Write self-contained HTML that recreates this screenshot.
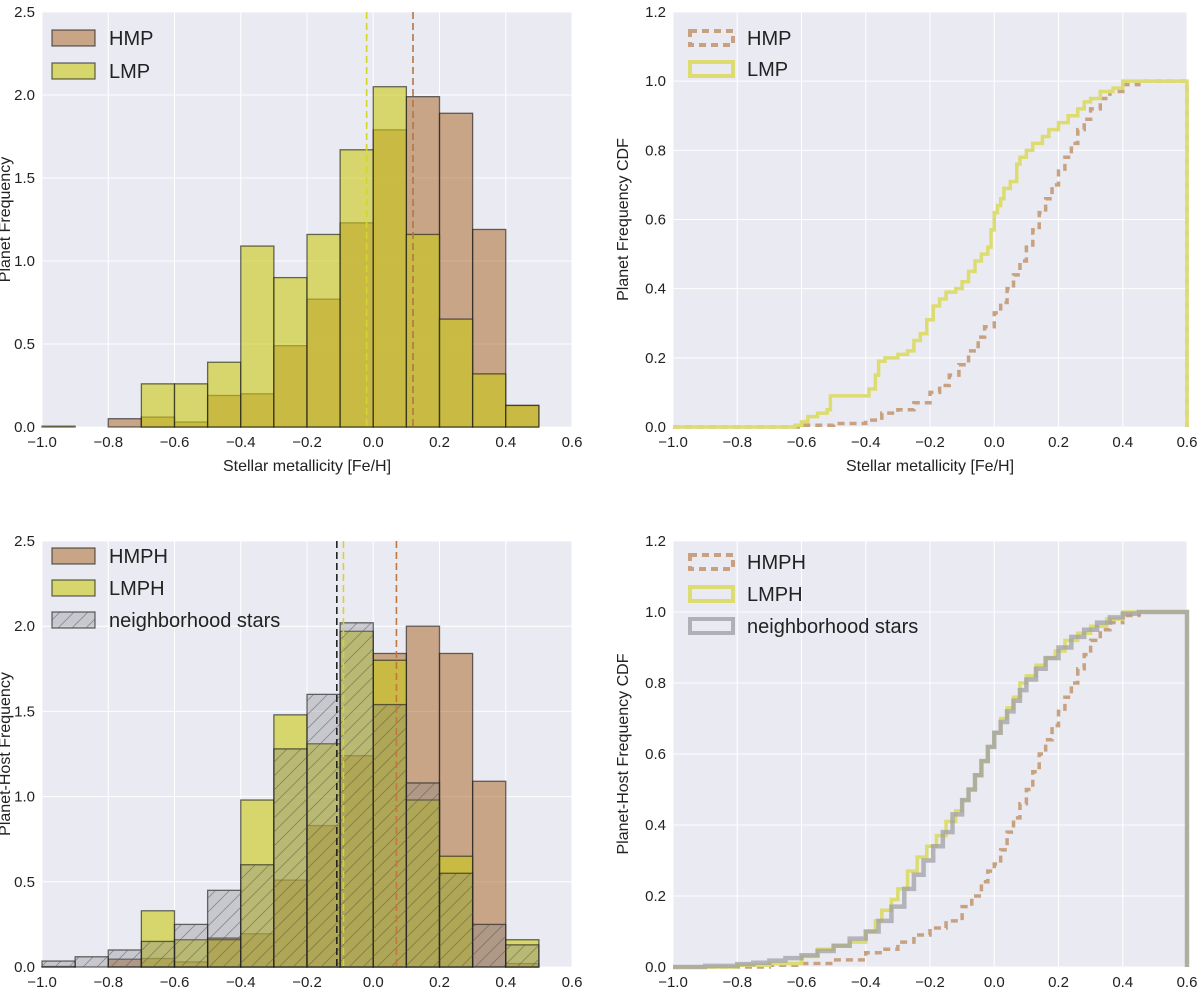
<!DOCTYPE html>
<html><head><meta charset="utf-8"><style>
body{margin:0;background:#fff;font-family:"Liberation Sans",sans-serif}
svg{display:block}
text{font-family:"Liberation Sans",sans-serif}
</style></head><body>
<svg id="fig" width="1200" height="997" viewBox="0 0 1200 997" xmlns="http://www.w3.org/2000/svg">
<defs>
<pattern id="hatch" patternUnits="userSpaceOnUse" width="14" height="14">
<path d="M0,14 L14,0 M-3,3 L3,-3 M11,17 L17,11" stroke="#555" stroke-width="0.8" opacity="0.55"/>
</pattern>
</defs>
</svg>
<script>
const binEdges = [-1.0,-0.9,-0.8,-0.7,-0.6,-0.5,-0.4,-0.3,-0.2,-0.1,0.0,0.1,0.2,0.3,0.4];
const hmp  = [0,0,0.05,0.06,0.03,0.19,0.2,0.49,0.77,1.23,1.79,1.99,1.89,1.19,0.13];
const lmp  = [0.005,0,0,0.26,0.26,0.39,1.09,0.9,1.16,1.67,2.05,1.16,0.65,0.32,0.13];
const hmph = [0.003,0,0.046,0.05,0.03,0.17,0.195,0.51,0.83,1.24,1.84,2.0,1.84,1.09,0.02];
const lmph = [0,0,0,0.33,0.16,0.16,0.98,1.48,1.31,1.97,1.80,0.98,0.65,0,0.16];
const nbh  = [0.035,0.06,0.1,0.15,0.25,0.45,0.6,1.28,1.6,2.02,1.54,1.08,0.55,0.25,0.13];
const meanTop = {lmp:-0.02, hmp:0.12};
const meanBot = {nbh:-0.11, lmph:-0.09, hmph:0.07};
const xTicks = [-1.0,-0.8,-0.6,-0.4,-0.2,0.0,0.2,0.4,0.6];
const yTicksHist = [0,0.5,1.0,1.5,2.0,2.5];
const yTicksCdf = [0,0.2,0.4,0.6,0.8,1.0,1.2];
const cdfLmpX = [-1,-0.62,-0.6,-0.58,-0.55,-0.52,-0.51,-0.4,-0.39,-0.37,-0.36,-0.34,-0.3,-0.27,-0.25,-0.23,-0.21,-0.19,-0.17,-0.15,-0.12,-0.1,-0.08,-0.06,-0.04,-0.02,-0.01,0,0.01,0.02,0.03,0.05,0.07,0.08,0.1,0.12,0.15,0.17,0.2,0.23,0.26,0.28,0.3,0.33,0.37,0.4];
const cdfLmpY = [0,0.005,0.015,0.03,0.04,0.05,0.09,0.09,0.11,0.15,0.19,0.2,0.21,0.22,0.25,0.27,0.31,0.35,0.37,0.39,0.4,0.42,0.45,0.48,0.5,0.52,0.57,0.62,0.64,0.66,0.69,0.71,0.76,0.78,0.8,0.82,0.84,0.86,0.88,0.9,0.92,0.94,0.95,0.97,0.98,1.0];
const cdfHmpX = [-1,-0.6,-0.5,-0.4,-0.35,-0.3,-0.25,-0.2,-0.17,-0.14,-0.11,-0.08,-0.05,-0.03,0,0.02,0.04,0.06,0.08,0.1,0.12,0.14,0.16,0.18,0.2,0.22,0.24,0.26,0.28,0.3,0.33,0.36,0.4,0.45];
const cdfHmpY = [0,0.005,0.01,0.02,0.04,0.05,0.07,0.1,0.12,0.15,0.18,0.22,0.26,0.29,0.33,0.36,0.4,0.44,0.48,0.52,0.57,0.62,0.66,0.7,0.74,0.78,0.82,0.86,0.89,0.92,0.95,0.97,0.99,1.0];
const cdfLmphX = [-1,-0.8,-0.7,-0.6,-0.55,-0.5,-0.45,-0.4,-0.37,-0.35,-0.32,-0.3,-0.27,-0.24,-0.21,-0.18,-0.15,-0.12,-0.1,-0.08,-0.06,-0.04,-0.02,0,0.02,0.04,0.06,0.08,0.1,0.13,0.16,0.19,0.22,0.26,0.3,0.35,0.4];
const cdfLmphY = [0,0.005,0.01,0.03,0.05,0.06,0.07,0.1,0.13,0.16,0.19,0.22,0.27,0.31,0.34,0.37,0.41,0.44,0.47,0.5,0.54,0.58,0.62,0.66,0.7,0.73,0.76,0.8,0.82,0.85,0.87,0.89,0.92,0.94,0.96,0.98,1.0];
const cdfNbhX = [-1,-0.9,-0.8,-0.75,-0.7,-0.65,-0.6,-0.55,-0.5,-0.45,-0.4,-0.36,-0.32,-0.28,-0.25,-0.22,-0.19,-0.16,-0.13,-0.1,-0.08,-0.06,-0.04,-0.02,0,0.02,0.04,0.06,0.08,0.1,0.13,0.16,0.2,0.24,0.28,0.32,0.36,0.4,0.45];
const cdfNbhY = [0,0.003,0.008,0.012,0.018,0.025,0.033,0.045,0.06,0.08,0.1,0.13,0.17,0.22,0.26,0.3,0.34,0.38,0.43,0.47,0.5,0.54,0.58,0.62,0.66,0.69,0.72,0.75,0.78,0.81,0.84,0.87,0.9,0.93,0.95,0.97,0.985,0.995,1.0];
const cdfHmphX = [-1,-0.7,-0.6,-0.5,-0.4,-0.35,-0.3,-0.25,-0.2,-0.15,-0.1,-0.07,-0.04,-0.02,0,0.02,0.04,0.06,0.08,0.1,0.12,0.14,0.16,0.18,0.2,0.22,0.24,0.26,0.28,0.3,0.33,0.36,0.4,0.45];
const cdfHmphY = [0,0.005,0.01,0.02,0.04,0.05,0.07,0.09,0.11,0.13,0.17,0.2,0.24,0.27,0.29,0.33,0.38,0.42,0.46,0.5,0.55,0.6,0.64,0.68,0.72,0.76,0.8,0.84,0.88,0.92,0.95,0.97,0.99,1.0];

const NS="http://www.w3.org/2000/svg";
const svg=document.getElementById('fig');
function mk(tag,attrs,parent){const e=document.createElementNS(NS,tag);for(const k in attrs)e.setAttribute(k,attrs[k]);(parent||svg).appendChild(e);return e;}

function panel(name,L,R,T,B,ymax,yticks,ylabel,titleOff){
  const g=mk('g',{});
  
  
  mk('rect',{x:L,y:T,width:R-L,height:B-T,fill:'#eaeaf2'},g);
  const sx=v=>L+(v+1)/1.6*(R-L);
  const sy=v=>B-v/ymax*(B-T);
  xTicks.forEach(t=>{
    mk('line',{x1:sx(t),x2:sx(t),y1:T,y2:B,stroke:'#fff','stroke-width':1},g);
    const tx=mk('text',{x:sx(t),y:B+20,'text-anchor':'middle','font-size':15,fill:'#222'},g);
    tx.textContent=(t<0?'\u2212':'')+Math.abs(t).toFixed(1);
    
    
  });
  yticks.forEach(t=>{
    mk('line',{x1:L,x2:R,y1:sy(t),y2:sy(t),stroke:'#fff','stroke-width':1},g);
    const tx=mk('text',{x:L-7,y:sy(t)+5,'text-anchor':'end','font-size':15,fill:'#222'},g);
    tx.textContent=t.toFixed(1);
    
    
  });
  const xt=mk('text',{x:(L+R)/2,y:B+44,'text-anchor':'middle','font-size':16,fill:'#222'},g);
  xt.textContent='Stellar metallicity [Fe/H]';
  
  
  const cx=L-titleOff, cy=(T+B)/2;
  const yt=mk('text',{x:cx,y:cy,'text-anchor':'middle','font-size':16,fill:'#222',transform:`rotate(-90 ${cx} ${cy})`},g);
  yt.textContent=ylabel;
  
  
  return {g,sx,sy,L,R,T,B};
}

const BROWN='rgba(166,96,28,0.5)', YEL='rgba(200,200,20,0.6)', GRY='rgba(125,125,130,0.32)';
function bars(p,vals,fill,name,hatch){
  vals.forEach((v,i)=>{
    if(v<=0)return;
    const x0=p.sx(binEdges[i]),x1=p.sx(binEdges[i]+0.1),y=p.sy(v);
    const r=mk('rect',{x:x0,y:y,width:x1-x0,height:p.B-y,fill:fill,stroke:'rgba(30,30,30,0.65)','stroke-width':1.3},p.g);
    
    
    if(hatch){const h=mk('rect',{x:x0,y:y,width:x1-x0,height:p.B-y,fill:'url(#hatch)'},p.g);
      
      }
  });
}
function vline(p,x,color,name){
  const l=mk('line',{x1:p.sx(x),x2:p.sx(x),y1:p.T,y2:p.B,stroke:color,'stroke-width':1.6,'stroke-dasharray':'7,4'},p.g);
  
  
}
function step(p,xs,ys,color,dash,name,w){
  let d=`M${p.sx(xs[0])},${p.sy(ys[0])}`;
  for(let i=1;i<xs.length;i++){d+=`H${p.sx(xs[i])}V${p.sy(ys[i])}`;}
  d+=`H${p.sx(0.6)}V${p.sy(0)}`;
  const a={d:d,fill:'none',stroke:color,'stroke-width':w||3.5};
  if(dash)a['stroke-dasharray']=dash;
  const e=mk('path',a,p.g);
  
  
}
function legend(p,items,x,y0,dy){
  items.forEach((it,i)=>{
    const y=y0+i*dy;
    let s;
    if(it.type==='patch'){
      s=mk('rect',{x:x,y:y-8,width:43,height:16,fill:it.fill,stroke:'rgba(30,30,30,0.65)','stroke-width':1.3},p.g);
      if(it.hatch)mk('rect',{x:x,y:y-8,width:43,height:16,fill:'url(#hatch)'},p.g);
    }else{
      s=mk('rect',{x:x,y:y-7,width:43,height:14,fill:'none',stroke:it.color,'stroke-width':4,'stroke-dasharray':it.dash||'none'},p.g);
    }
    
    
    const t=mk('text',{x:x+57,y:y+7,'font-size':20,fill:'#222'},p.g);
    t.textContent=it.label;
    
    
  });
}

const p1=panel('hist-top',42,572,12,427,2.5,yTicksHist,'Planet Frequency',32);
bars(p1,hmp,BROWN,'bar-hmp');
bars(p1,lmp,YEL,'bar-lmp');
vline(p1,meanTop.lmp,'#d4d430','mean-lmp');
vline(p1,meanTop.hmp,'#b07848','mean-hmp');
legend(p1,[{type:'patch',fill:BROWN,label:'HMP'},{type:'patch',fill:YEL,label:'LMP'}],52,38,33);

const p2=panel('cdf-top',673,1187,12,427,1.2,yTicksCdf,'Planet Frequency CDF',45);
step(p2,cdfHmpX,cdfHmpY,'#c8a280','7,5','cdf-hmp');
step(p2,cdfLmpX,cdfLmpY,'#dcdc70',null,'cdf-lmp');
legend(p2,[{type:'line',color:'#c8a280',dash:'7,5',label:'HMP'},{type:'line',color:'#dcdc70',label:'LMP'}],690,38,31);

const p3=panel('hist-bottom',42,572,541,967,2.5,yTicksHist,'Planet-Host Frequency',32);
bars(p3,hmph,BROWN,'bar-hmph');
bars(p3,lmph,YEL,'bar-lmph');
bars(p3,nbh,GRY,'bar-neighborhood',true);
vline(p3,meanBot.nbh,'#222','mean-neighborhood');
vline(p3,meanBot.lmph,'#d4d430','mean-lmph');
vline(p3,meanBot.hmph,'#c07840','mean-hmph');
legend(p3,[{type:'patch',fill:BROWN,label:'HMPH'},{type:'patch',fill:YEL,label:'LMPH'},{type:'patch',fill:GRY,hatch:true,label:'neighborhood stars'}],52,556,32);

const p4=panel('cdf-bottom',673,1187,541,967,1.2,yTicksCdf,'Planet-Host Frequency CDF',45);
step(p4,cdfHmphX,cdfHmphY,'#c8a280','7,5','cdf-hmph');
step(p4,cdfLmphX,cdfLmphY,'#dcdc70',null,'cdf-lmph');
step(p4,cdfNbhX,cdfNbhY,'rgba(160,160,165,0.75)',null,'cdf-neighborhood',4.5);
legend(p4,[{type:'line',color:'#c8a280',dash:'7,5',label:'HMPH'},{type:'line',color:'#dcdc70',label:'LMPH'},{type:'line',color:'#b0b0b5',label:'neighborhood stars'}],690,562,32);
</script>
</body></html>
